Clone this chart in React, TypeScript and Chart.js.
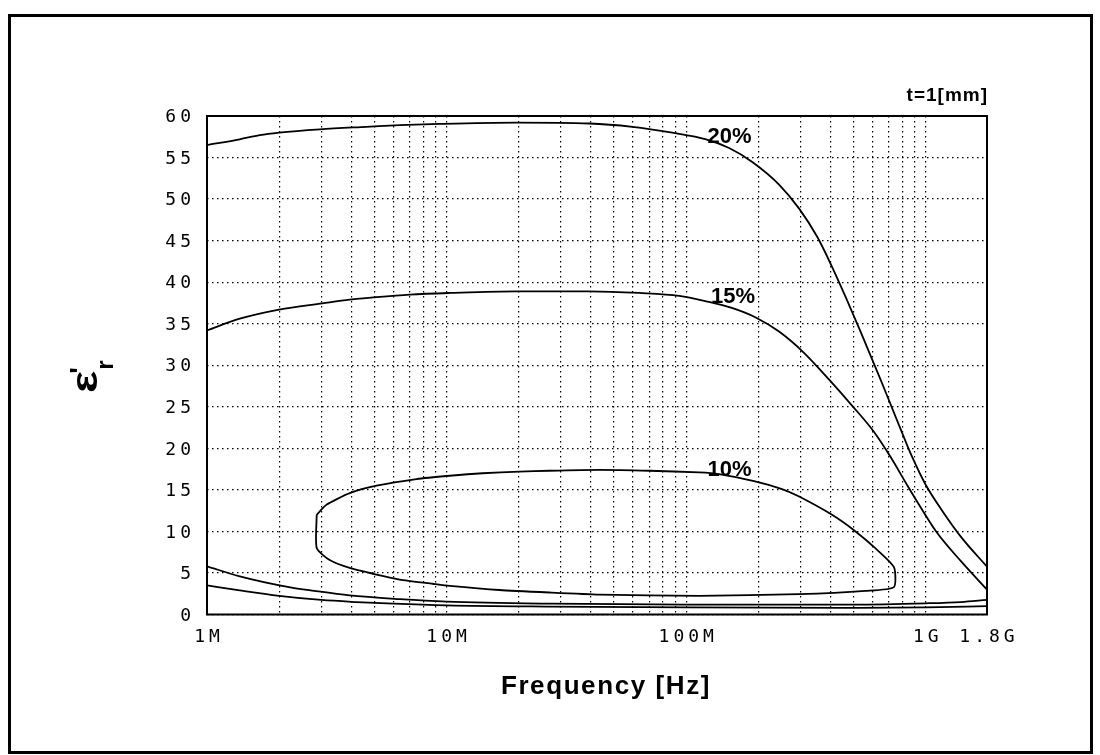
import React, { useEffect, useRef } from 'react';
import { Chart, registerables } from 'chart.js';

Chart.register(...registerables);

// Frequencies in MHz, permittivity values
const freq20 = [1, 1.37, 1.66, 2, 2.96, 4.62, 6.37, 9.35, 19.5, 39.4, 59.6, 87.4, 121, 151, 188, 244, 296, 353, 406, 463, 534, 648, 724, 794, 874, 997, 1170, 1410, 1800];
const eps20 = [56.5, 57.2, 57.7, 58.0, 58.4, 58.7, 58.9, 59.05, 59.2, 59.1, 58.7, 58.0, 57.2, 56.15, 54.5, 51.75, 48.85, 45.4, 41.85, 38.2, 34.05, 28.25, 24.8, 21.95, 19.05, 15.65, 12.5, 9.25, 5.75];

const freq15 = [1, 1.37, 2, 3.03, 3.94, 5.1, 7.01, 10.3, 19.5, 39.4, 63.7, 93.5, 121, 155, 195, 244, 310, 394, 492, 607, 713, 823, 951, 1110, 1413, 1800];
const eps15 = [34.2, 35.6, 36.7, 37.45, 37.9, 38.2, 38.5, 38.7, 38.9, 38.9, 38.7, 38.35, 37.7, 36.9, 35.75, 34.05, 31.5, 28.3, 25.15, 22.0, 18.95, 15.9, 12.9, 9.9, 6.3, 3.0];

// 10% : closed contour (upper branch left->right, right edge down, lower branch right->left, left edge up)
const freq10 = [2.87, 3.15, 3.94, 5.1, 7.48, 10.3, 14.1, 20.1, 26.8, 43.4, 70.2, 113, 137, 192, 251, 296, 406, 509, 617, 736, 736, 561, 296, 113, 43.4, 26.8, 16.6, 10.3, 8.74, 6.37, 5.1, 3.94, 3.25, 2.87, 2.87];
const eps10 = [12.0, 13.2, 14.6, 15.5, 16.3, 16.7, 17.0, 17.2, 17.3, 17.4, 17.3, 17.1, 16.9, 16.05, 15.1, 14.2, 12.0, 10.0, 7.95, 5.7, 3.3, 2.85, 2.45, 2.25, 2.4, 2.65, 2.95, 3.45, 3.7, 4.2, 4.8, 5.6, 6.55, 8.0, 12.0];

const freqLowA = [1, 1.37, 2.2, 2.8, 3.94, 6.37, 10, 27, 100, 500, 1000, 1400, 1800];
const epsLowA = [5.8, 4.6, 3.3, 2.85, 2.3, 1.85, 1.55, 1.3, 1.2, 1.2, 1.35, 1.5, 1.75];

const freqLowB = [1, 1.37, 2, 3, 4.2, 6, 10, 27, 100, 500, 1000, 1800];
const epsLowB = [3.5, 2.9, 2.25, 1.75, 1.5, 1.3, 1.1, 0.95, 0.85, 0.8, 0.85, 1.0];

// Curve annotations
const curveLabels = ['20%', '15%', '10%'];
const curveLabelFreq = [122.7, 126.8, 122.7];
const curveLabelEps = [56.75, 37.5, 16.7];

// Axes
const yTickValues = [0, 5, 10, 15, 20, 25, 30, 35, 40, 45, 50, 55, 60];
const xTickFreqs = [1, 10, 100, 1000, 1800];
const xTickLabels = ['1M', '10M', '100M', '1G', '1.8G'];
const xGridFreqs = [1, 2, 3, 4, 5, 6, 7, 8, 9, 10, 20, 30, 40, 50, 60, 70, 80, 90, 100, 200, 300, 400, 500, 600, 700, 800, 900, 1000, 1800];

const xTitle = 'Frequency [Hz]';
const cornerNote = 't=1[mm]';

export default function App() {
  const ref = useRef<HTMLCanvasElement>(null);

  useEffect(() => {
    const canvas = ref.current;
    if (!canvas) return;

    const pts = (f: number[], e: number[]) => f.map((x, i) => ({ x, y: e[i] }));
    const ds = (f: number[], e: number[], loop = false) => ({
      data: pts(f, e),
      showLine: true,
      borderColor: '#000',
      backgroundColor: '#000',
      borderWidth: 1.8,
      pointRadius: 0,
      pointHoverRadius: 0,
      tension: loop ? 0.2 : 0.4,
      cubicInterpolationMode: loop ? 'default' : 'monotone',
      fill: false,
    });

    const decor = {
      id: 'decor',
      beforeDraw(chart: any) {
        const ctx = chart.ctx;
        ctx.save();
        ctx.fillStyle = '#fff';
        ctx.fillRect(0, 0, chart.width, chart.height);
        ctx.lineWidth = 3;
        ctx.strokeStyle = '#000';
        ctx.strokeRect(9.5, 15.5, 1082, 737);
        ctx.restore();
      },
      afterDraw(chart: any) {
        const ctx = chart.ctx;
        const ca = chart.chartArea;
        const xs = chart.scales.x;
        const ys = chart.scales.y;
        ctx.save();
        ctx.strokeStyle = '#000';
        ctx.lineWidth = 2;
        ctx.strokeRect(ca.left, ca.top, ca.right - ca.left, ca.bottom - ca.top);

        ctx.fillStyle = '#000';
        // y tick labels
        ctx.font = '18px "DejaVu Sans Mono"';
        (ctx as any).letterSpacing = '4px';
        ctx.textAlign = 'right';
        ctx.textBaseline = 'middle';
        yTickValues.forEach((v) => {
          ctx.fillText(String(v), 191 + 4, ys.getPixelForValue(v) + 1.5);
        });
        // x tick labels
        ctx.textAlign = 'center';
        xTickFreqs.forEach((f, i) => {
          ctx.fillText(xTickLabels[i], xs.getPixelForValue(f) + 2, 637);
        });

        // curve labels
        (ctx as any).letterSpacing = '0px';
        ctx.font = 'bold 22px "Liberation Sans"';
        ctx.textAlign = 'left';
        ctx.textBaseline = 'alphabetic';
        curveLabels.forEach((t, i) => {
          ctx.fillText(t, xs.getPixelForValue(curveLabelFreq[i]), ys.getPixelForValue(curveLabelEps[i]));
        });

        // corner note
        ctx.font = 'bold 19px "Liberation Sans"';
        (ctx as any).letterSpacing = '1px';
        ctx.textAlign = 'right';
        ctx.fillText(cornerNote, ca.right + 1, 101);

        // x title
        ctx.font = 'bold 26px "Liberation Sans"';
        (ctx as any).letterSpacing = '1.6px';
        ctx.textAlign = 'center';
        ctx.fillText(xTitle, 606, 694);

        // y title: epsilon' r (rotated)
        (ctx as any).letterSpacing = '0px';
        ctx.translate(97, 393);
        ctx.rotate(-Math.PI / 2);
        ctx.textAlign = 'left';
        ctx.textBaseline = 'alphabetic';
        ctx.font = 'bold 36px "Liberation Sans"';
        const w = ctx.measureText('ε').width * 1.3;
        ctx.save();
        ctx.scale(1.3, 1);
        ctx.fillText('ε', 0, 0);
        ctx.restore();
        ctx.font = 'bold 28px "Liberation Sans"';
        ctx.fillText("'", w - 3, -8);
        ctx.font = 'bold 24px "Liberation Sans"';
        ctx.fillText('r', w + 1, 16);
        ctx.restore();
      },
    };

    const gridOpts = { color: '#000', lineWidth: 1.2, drawTicks: false };
    const borderOpts = { display: false, dash: [1.5, 3.5] };

    const chart = new Chart(canvas, {
      type: 'scatter',
      data: {
        datasets: [
          ds(freq20, eps20),
          ds(freq15, eps15),
          ds(freq10, eps10, true),
          ds(freqLowA, epsLowA),
          ds(freqLowB, epsLowB),
        ],
      },
      options: {
        responsive: false,
        animation: false,
        devicePixelRatio: 1,
        layout: { padding: { left: 207, top: 116, right: 113, bottom: 140.5 } },
        plugins: { legend: { display: false }, tooltip: { enabled: false }, title: { display: false } },
        scales: {
          x: {
            type: 'logarithmic',
            min: 1,
            max: 1800,
            afterBuildTicks: (s: any) => {
              s.ticks = xGridFreqs.map((v) => ({ value: v }));
            },
            ticks: { display: false, autoSkip: false },
            grid: gridOpts,
            border: borderOpts,
            title: { display: false },
          },
          y: {
            type: 'linear',
            min: 0,
            max: 60,
            afterBuildTicks: (s: any) => {
              s.ticks = yTickValues.map((v) => ({ value: v }));
            },
            ticks: { display: false },
            grid: gridOpts,
            border: borderOpts,
            title: { display: false },
          },
        },
      } as any,
      plugins: [decor],
    });

    return () => chart.destroy();
  }, []);

  return (
    <div style={{ position: 'absolute', left: 0, top: 0, width: 1100, height: 755, background: '#fff' }}>
      <canvas ref={ref} width={1100} height={755} style={{ display: 'block', width: 1100, height: 755 }} />
    </div>
  );
}
